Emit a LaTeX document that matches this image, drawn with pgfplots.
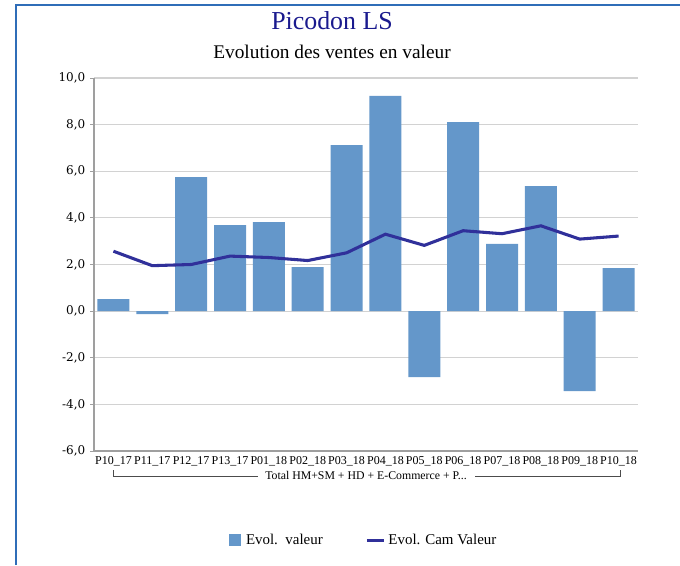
\documentclass[border=0pt]{standalone}
\usepackage{pgfplots}
\pgfplotsset{compat=1.18}
\usepackage{fontspec}
\setmainfont{Liberation Serif}
\newfontfamily\dvs{DejaVu Serif}
\definecolor{barblue}{HTML}{6497CA}
\definecolor{linenavy}{HTML}{30309A}
\definecolor{titlenavy}{HTML}{1A1A8E}
\definecolor{framecol}{HTML}{2F6DB8}
\begin{document}
\begin{tikzpicture}[x=0.75pt,y=0.75pt]
\path[use as bounding box] (0,0) rectangle (680,565);
\draw[framecol, line width=1.3pt] (16,0) -- (16,560) -- (680,560);
\node[titlenavy, font=\fontsize{19.4}{21}\selectfont] at (332,565-21) {Picodon LS};
\node[font=\fontsize{14.5}{16}\selectfont] at (332,565-52) {Evolution des ventes en valeur};
\begin{axis}[
  at={(70.5pt,85.5pt)}, anchor=south west,
  scale only axis, width=408pt, height=279.75pt,
  xmin=-0.5, xmax=13.5, ymin=-6, ymax=10,
  ytick={-6,-4,...,10},
  xtick={0,...,13},
  xticklabels={P10\_17,P11\_17,P12\_17,P13\_17,P01\_18,P02\_18,P03\_18,P04\_18,P05\_18,P06\_18,P07\_18,P08\_18,P09\_18,P10\_18},
  x tick label style={font=\fontsize{9}{9.5}\selectfont, inner sep=1pt},
  y tick label style={font=\dvs\fontsize{9}{10}\selectfont},
  /pgf/number format/assume math mode=true,
  yticklabel={\pgfmathprintnumber[fixed, fixed zerofill, precision=1, use comma]{\tick}},
  axis x line*=bottom, axis y line*=left,
  axis line style={-, gray!75, line width=1.2pt},
  ymajorgrids, grid style={gray!35, line width=0.8pt},
  major x tick style={draw=none},
  major y tick style={gray!75, line width=0.6pt},
  tick align=outside, major tick length=3pt,
  legend columns=2,
  legend style={draw=none, at={(0.496,-0.239)}, anchor=center,
    font=\fontsize{11.2}{12}\selectfont, /tikz/every even column/.append style={column sep=30pt}},
  clip=false,
]
\addplot[ybar, bar width=24pt, fill=barblue, draw=none,
  legend image code/.code={\fill[barblue] (-2pt,-4.5pt) rectangle (7pt,4.5pt);}]
coordinates {
(0,0.51) (1,-0.13) (2,5.75) (3,3.69) (4,3.82) (5,1.89) (6,7.12)
(7,9.23) (8,-2.83) (9,8.11) (10,2.88) (11,5.36) (12,-3.43) (13,1.85)};
\addlegendentry{\hspace{2pt}Evol.\ \ valeur}
\addplot[linenavy, line width=2.3pt, mark=none,
  legend image code/.code={\draw[linenavy, line width=2.3pt] (0pt,0pt) -- (13pt,0pt);}]
coordinates {
(0,2.57) (1,1.95) (2,2.0) (3,2.36) (4,2.30) (5,2.17) (6,2.50)
(7,3.30) (8,2.82) (9,3.45) (10,3.32) (11,3.66) (12,3.09) (13,3.22)};
\addlegendentry{Evol. Cam Valeur}
\end{axis}
\draw[black!70, line width=0.6pt] (113,565-470) -- (113,565-476) -- (258,565-476);
\draw[black!70, line width=0.6pt] (475,565-476) -- (620,565-476) -- (620,565-470);
\node[font=\fontsize{8.85}{9}\selectfont, inner sep=0pt] at (366,565-475) {Total HM+SM + HD + E-Commerce + P...};
\end{tikzpicture}
\end{document}
